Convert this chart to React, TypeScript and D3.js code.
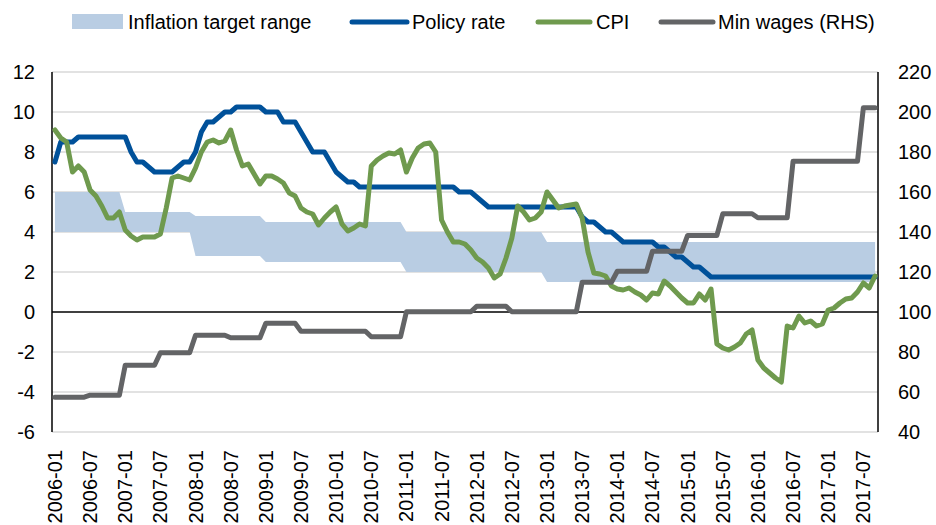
import React from "react";
import * as d3 from "d3";

// ---- data ----
const startYear = 2006;
const monthCount = 141; // 2006-01 .. 2017-09
const months: string[] = d3
  .utcMonths(new Date(Date.UTC(startYear, 0, 1)), new Date(Date.UTC(startYear, monthCount, 1)))
  .map((d) => d3.utcFormat("%Y-%m")(d));

const targetYears = [2006, 2007, 2008, 2009, 2010, 2011, 2012, 2013, 2014, 2015, 2016, 2017];
const targetLow = [4, 4, 2.8, 2.5, 2.5, 2, 2, 1.5, 1.5, 1.5, 1.5, 1.5];
const targetHigh = [6, 5, 4.8, 4.5, 4.5, 4, 4, 3.5, 3.5, 3.5, 3.5, 3.5];

const policyRate = [
  7.5, 8.5, 8.5, 8.5, 8.75, 8.75, 8.75, 8.75, 8.75, 8.75, 8.75, 8.75,
  8.75, 8.0, 7.5, 7.5, 7.25, 7.0, 7.0, 7.0, 7.0, 7.25, 7.5, 7.5,
  8.0, 9.0, 9.5, 9.5, 9.75, 10.0, 10.0, 10.25, 10.25, 10.25, 10.25, 10.25,
  10.0, 10.0, 10.0, 9.5, 9.5, 9.5, 9.0, 8.5, 8.0, 8.0, 8.0, 7.5,
  7.0, 6.75, 6.5, 6.5, 6.25, 6.25, 6.25, 6.25, 6.25, 6.25, 6.25, 6.25,
  6.25, 6.25, 6.25, 6.25, 6.25, 6.25, 6.25, 6.25, 6.25, 6.0, 6.0, 6.0,
  5.75, 5.5, 5.25, 5.25, 5.25, 5.25, 5.25, 5.25, 5.25, 5.25, 5.25, 5.25,
  5.25, 5.25, 5.25, 5.25, 5.25, 5.25, 4.75, 4.5, 4.5, 4.25, 4.0, 4.0,
  3.75, 3.5, 3.5, 3.5, 3.5, 3.5, 3.5, 3.25, 3.25, 3.0, 2.75, 2.75,
  2.5, 2.25, 2.25, 2.0, 1.75, 1.75, 1.75, 1.75, 1.75, 1.75, 1.75, 1.75,
  1.75, 1.75, 1.75, 1.75, 1.75, 1.75, 1.75, 1.75, 1.75, 1.75, 1.75, 1.75,
  1.75, 1.75, 1.75, 1.75, 1.75, 1.75, 1.75, 1.75, 1.75,
];

const cpi = [
  9.1, 8.7, 8.5, 7.0, 7.3, 7.0, 6.1, 5.8, 5.3, 4.7, 4.7, 5.0,
  4.1, 3.8, 3.6, 3.75, 3.75, 3.75, 3.9, 5.2, 6.7, 6.8, 6.7, 6.6,
  7.2, 8.0, 8.5, 8.6, 8.45, 8.55, 9.1, 8.1, 7.3, 7.4, 6.9, 6.4,
  6.8, 6.8, 6.65, 6.45, 5.95, 5.8, 5.2, 5.0, 4.9, 4.35, 4.7, 5.0,
  5.25, 4.4, 4.05, 4.2, 4.4, 4.3, 7.3, 7.6, 7.8, 7.95, 7.9, 8.1,
  7.0, 7.7, 8.2, 8.4, 8.45, 8.0, 4.6, 4.0, 3.5, 3.5, 3.4, 3.1,
  2.7, 2.5, 2.2, 1.7, 1.9, 2.7, 3.7, 5.3, 5.0, 4.6, 4.7, 5.0,
  6.0, 5.6, 5.2, 5.3, 5.35, 5.4, 4.7, 3.0, 1.95, 1.9, 1.8, 1.3,
  1.15, 1.1, 1.2, 1.0, 0.85, 0.6, 0.95, 0.9, 1.55, 1.3, 1.0, 0.7,
  0.45, 0.45, 0.9, 0.6, 1.15, -1.6, -1.8, -1.9, -1.75, -1.55, -1.1, -0.9,
  -2.4, -2.8, -3.05, -3.3, -3.5, -0.7, -0.8, -0.2, -0.55, -0.45, -0.7, -0.6,
  0.1, 0.2, 0.45, 0.65, 0.7, 1.0, 1.45, 1.2, 1.8,
];

const minWages = [
  57.4, 57.4, 57.4, 57.4, 57.4, 57.4, 58.4, 58.4, 58.4, 58.4, 58.4, 58.4,
  73.4, 73.4, 73.4, 73.4, 73.4, 73.4, 79.6, 79.6, 79.6, 79.6, 79.6, 79.6,
  88.4, 88.4, 88.4, 88.4, 88.4, 88.4, 87.1, 87.1, 87.1, 87.1, 87.1, 87.1,
  94.4, 94.4, 94.4, 94.4, 94.4, 94.4, 90.4, 90.4, 90.4, 90.4, 90.4, 90.4,
  90.4, 90.4, 90.4, 90.4, 90.4, 90.4, 87.6, 87.6, 87.6, 87.6, 87.6, 87.6,
  100.1, 100.1, 100.1, 100.1, 100.1, 100.1, 100.1, 100.1, 100.1, 100.1, 100.1, 100.1,
  102.9, 102.9, 102.9, 102.9, 102.9, 102.9, 100.1, 100.1, 100.1, 100.1, 100.1, 100.1,
  100.1, 100.1, 100.1, 100.1, 100.1, 100.1, 114.9, 114.9, 114.9, 114.9, 114.9, 114.9,
  120.4, 120.4, 120.4, 120.4, 120.4, 120.4, 130.4, 130.4, 130.4, 130.4, 130.4, 130.4,
  138.3, 138.3, 138.3, 138.3, 138.3, 138.3, 149.1, 149.1, 149.1, 149.1, 149.1, 149.1,
  147.1, 147.1, 147.1, 147.1, 147.1, 147.1, 175.4, 175.4, 175.4, 175.4, 175.4, 175.4,
  175.4, 175.4, 175.4, 175.4, 175.4, 175.4, 202.1, 202.1, 202.1,
];

const leftTicks = [-6, -4, -2, 0, 2, 4, 6, 8, 10, 12];
const rightTicks = [40, 60, 80, 100, 120, 140, 160, 180, 200, 220];
const xTickLabels = months.filter((m) => m.endsWith("-01") || m.endsWith("-07"));

const seriesNames = ["Inflation target range", "Policy rate", "CPI", "Min wages (RHS)"];

// ---- style ----
const W = 936;
const H = 525;
const FONT = "'Liberation Sans', Arial, sans-serif";
const COL_BAND = "#b9cde3";
const COL_POLICY = "#00519a";
const COL_CPI = "#6f9a4e";
const COL_WAGE = "#636466";
const COL_GRID = "#d9d9d9";

export default function App() {
  const x = d3.scaleBand<string>().domain(months).range([52, 878]).padding(0);
  const cx = (i: number) => (x(months[i]) as number) + x.bandwidth() / 2;
  const yL = d3.scaleLinear().domain([-6, 12]).range([432, 72]);
  const yR = d3.scaleLinear().domain([40, 220]).range([432, 72]);

  const bandData = months.map((m, i) => {
    const yr = +m.slice(0, 4);
    const k = targetYears.indexOf(yr);
    return { i, lo: targetLow[k], hi: targetHigh[k] };
  });
  const bandArea = d3
    .area<{ i: number; lo: number; hi: number }>()
    .x((d) => cx(d.i))
    .y0((d) => yL(d.lo))
    .y1((d) => yL(d.hi));

  const lineL = d3
    .line<number>()
    .x((_, i) => cx(i))
    .y((d) => yL(d));
  const lineR = d3
    .line<number>()
    .x((_, i) => cx(i))
    .y((d) => yR(d));

  const fs = 20;
  const sw = 5;

  return (
    <svg
      width={W}
      height={H}
      viewBox={`0 0 ${W} ${H}`}
      style={{ position: "absolute", left: 0, top: 0, background: "#fff" }}
      fontFamily={FONT}
    >
      <rect x={0} y={0} width={W} height={H} fill="#fff" />
      {/* gridlines */}
      {leftTicks
        .filter((t) => t !== 0)
        .map((t) => (
          <line key={t} x1={52} x2={878} y1={yL(t)} y2={yL(t)} stroke={COL_GRID} strokeWidth={1.5} />
        ))}
      {/* target band */}
      <path d={bandArea(bandData) || ""} fill={COL_BAND} />
      {/* zero line */}
      <line x1={52} x2={878} y1={yL(0)} y2={yL(0)} stroke="#000" strokeWidth={1.5} />
      {/* axes */}
      <line x1={52} x2={52} y1={72} y2={432} stroke="#000" strokeWidth={1.5} />
      <line x1={878} x2={878} y1={72} y2={432} stroke="#000" strokeWidth={1.5} />
      {/* series */}
      <path d={lineL(policyRate) || ""} fill="none" stroke={COL_POLICY} strokeWidth={sw} strokeLinejoin="round" strokeLinecap="round" />
      <path d={lineL(cpi) || ""} fill="none" stroke={COL_CPI} strokeWidth={sw} strokeLinejoin="round" strokeLinecap="round" />
      <path d={lineR(minWages) || ""} fill="none" stroke={COL_WAGE} strokeWidth={sw} strokeLinejoin="round" strokeLinecap="round" />
      {/* left ticks */}
      {leftTicks.map((t) => (
        <text key={t} x={35} y={yL(t)} textAnchor="end" dominantBaseline="central" fontSize={fs} fill="#000">
          {t}
        </text>
      ))}
      {/* right ticks */}
      {rightTicks.map((t) => (
        <text key={t} x={898} y={yR(t)} textAnchor="start" dominantBaseline="central" fontSize={fs} fill="#000">
          {t}
        </text>
      ))}
      {/* x labels */}
      {xTickLabels.map((m) => {
        const px = cx(months.indexOf(m));
        return (
          <text
            key={m}
            x={px}
            y={450}
            transform={`rotate(-90, ${px}, 450)`}
            textAnchor="end"
            dominantBaseline="central"
            fontSize={fs}
            fill="#000"
          >
            {m}
          </text>
        );
      })}
      {/* legend */}
      <g fontSize={fs} fill="#000">
        <rect x={72} y={14} width={51} height={15} fill={COL_BAND} />
        <text x={128} y={22} dominantBaseline="central">{seriesNames[0]}</text>
        <line x1={352} x2={407} y1={22} y2={22} stroke={COL_POLICY} strokeWidth={5} strokeLinecap="round" />
        <text x={412} y={22} dominantBaseline="central">{seriesNames[1]}</text>
        <line x1={538} x2={590} y1={22} y2={22} stroke={COL_CPI} strokeWidth={5} strokeLinecap="round" />
        <text x={596} y={22} dominantBaseline="central">{seriesNames[2]}</text>
        <line x1={661} x2={713} y1={22} y2={22} stroke={COL_WAGE} strokeWidth={5} strokeLinecap="round" />
        <text x={718} y={22} dominantBaseline="central">{seriesNames[3]}</text>
      </g>
    </svg>
  );
}
